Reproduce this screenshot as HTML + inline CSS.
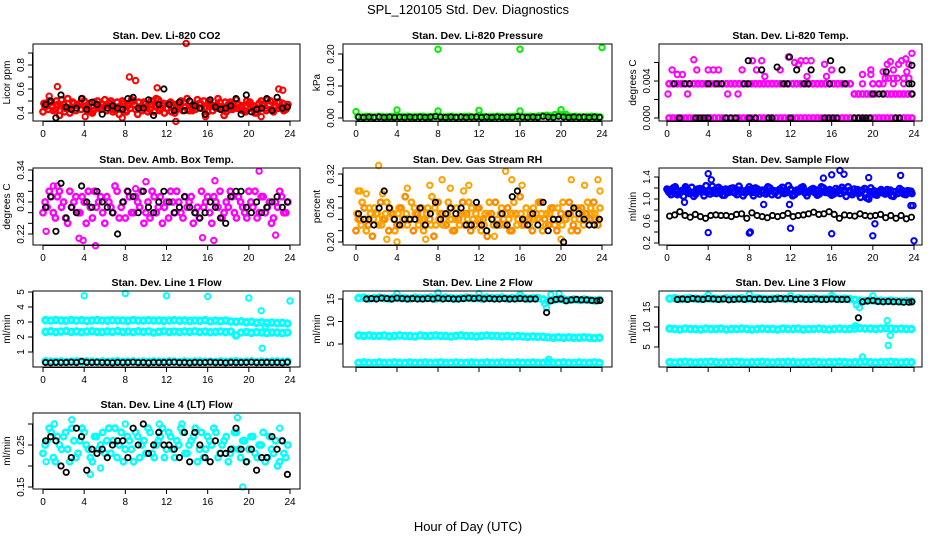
<!DOCTYPE html>
<html><head><meta charset="utf-8"><title>SPL_120105 Std. Dev. Diagnostics</title>
<style>
html,body{margin:0;padding:0;background:#fff;}
svg{display:block;font-family:"Liberation Sans",Arial,sans-serif;}
</style></head>
<body>
<svg id="chart" width="936" height="540" viewBox="0 0 936 540" xmlns="http://www.w3.org/2000/svg">
<rect x="0" y="0" width="936" height="540" fill="#fff"/>
<text x="468" y="14" text-anchor="middle" font-size="13">SPL_120105  Std. Dev. Diagnostics</text>
<text x="468" y="531" text-anchor="middle" font-size="13">Hour of Day (UTC)</text>
</svg>
<script>
// ---- data (hours 0-24) ----
const xTicks = [0,4,8,12,16,20,24];

// Panel 1: CO2
const co2RedA = [0.45,0.50,0.42,0.47,0.51,0.44,0.40,0.48,0.46,0.52,0.43,0.41,0.49,0.45,0.47,0.42,0.50,0.44,0.39,0.48,0.46,0.51,0.43,0.45,0.49,0.41,0.47,0.52,0.44,0.40,0.48,0.46,0.43,0.50,0.45,0.42,0.47,0.51,0.44,0.39,0.48,0.46,0.52,0.43,0.41,0.49,0.45,0.47,0.42,0.50,0.44,0.40,0.48,0.46,0.51,0.43,0.45,0.49,0.42,0.47];
const co2RedB = [0.41,0.46,0.49,0.43,0.38,0.47,0.52,0.44,0.42,0.48,0.50,0.45,0.40,0.47,0.43,0.51,0.46,0.41,0.49,0.44,0.42,0.47,0.50,0.39,0.45,0.48,0.43,0.41,0.51,0.46,0.44,0.49,0.40,0.47,0.42,0.52,0.45,0.43,0.48,0.50,0.41,0.46,0.44,0.49,0.38,0.47,0.43,0.51,0.45,0.42,0.48,0.46,0.40,0.50,0.44,0.47,0.41,0.49,0.45,0.43];
const co2RedC = [0.48,0.43,0.45,0.50,0.46,0.41,0.44,0.49,0.47,0.43,0.45,0.48,0.42,0.50,0.44,0.46,0.48,0.43,0.45,0.50,0.41,0.44,0.47,0.49,0.42,0.45,0.50,0.46,0.42,0.48,0.44,0.41,0.47,0.45,0.49,0.43,0.42,0.46,0.48,0.44,0.50,0.42,0.47,0.45,0.49,0.43,0.48,0.44,0.46,0.41,0.49,0.45,0.43,0.47,0.42,0.50,0.46,0.44,0.48,0.45];
const co2RedOutX = [1.4,8.4,9.0,11.1,13.9,22.9,23.3,0.6,7.7,12.9,4.1,15.8,21.2];
const co2RedOutY = [0.62,0.70,0.67,0.61,0.98,0.60,0.59,0.54,0.36,0.33,0.37,0.37,0.37];
const co2Black = [0.47,0.50,0.36,0.55,0.45,0.43,0.44,0.52,0.43,0.49,0.47,0.39,0.44,0.46,0.44,0.43,0.52,0.53,0.44,0.44,0.51,0.38,0.47,0.60,0.47,0.42,0.49,0.42,0.50,0.46,0.44,0.39,0.51,0.45,0.43,0.44,0.46,0.52,0.39,0.55,0.41,0.43,0.44,0.52,0.42,0.53,0.44,0.45];

// Panel 2: Pressure
const presGreen = [0.004,0.003,0.005,0.004,0.003,0.005,0.004,0.003,0.004,0.005,0.003,0.004,0.005,0.003,0.004,0.004,0.005,0.003,0.004,0.005,0.004,0.003,0.004,0.005,0.003,0.004,0.004,0.005,0.003,0.004,0.005,0.004,0.003,0.004,0.005,0.004,0.003,0.004,0.005,0.004,0.003,0.004,0.005,0.004,0.006,0.007,0.008,0.006,0.010,0.011,0.009,0.006,0.004,0.005,0.004,0.003,0.004,0.005,0.004,0.003];
const presGreenOutX = [0,4,8,12,16,20,8,16,24,20.5];
const presGreenOutY = [0.020,0.025,0.022,0.024,0.022,0.026,0.215,0.215,0.220,0.012];
const presBlack = [0.003,0.002,0.003,0.002,0.003,0.002,0.003,0.002,0.003,0.002,0.003,0.002,0.003,0.002,0.003,0.005,0.003,0.002,0.003,0.002,0.003,0.002,0.003,0.003,0.002,0.003,0.002,0.003,0.002,0.003,0.002,0.005,0.003,0.002,0.003,0.002,0.005,0.003,0.002,0.005,0.003,0.002,0.003,0.002,0.003,0.002,0.003,0.002];

// Panel 3: Temp
const tempLow = [0,0,0,0,0,0,0,0,0,0,0,0,0,0,0,0,0,0,0,0,0,0,0,0,0,0,0,0,0,0,0,0,0,0,0,0,0,0,0,0,0,0,0,0,0,0,0,0,0,0,0,0,0,0,0,0,0,0,0,0];
const tempMid = [0.0037,0.0037,0.0037,0.0037,0.0037,0.0037,0.0037,0.0037,0.0037,0.0037,0.0037,0.0037,0.0037,0.0037,0.0037,0.0037,0.0037,0.0037,0.0037,0.0037,0.0037,0.0037,0.0037,0.0037,0.0037,0.0037,0.0037,0.0037,0.0037,0.0037,0.0037,0.0037,0.0037,0.0037,0.0037,0.0037,0.0037,0.0037,0.0037,0.0037,0.0037,0.0037,0.0037,0.0037,0.0037,0.0026,0.0026,0.0026,0.0026,0.0026,0.0026,0.0037,0.0026,0.0026,0.0026,0.0026,0.0026,0.0026,0.0026,0.0026];
const tempMagOutX = [0.5,1.0,1.5,2.6,2.9,4.0,4.5,5.0,7.3,8.3,8.7,9.2,9.5,11.0,11.8,12.4,12.8,13.0,13.5,14.0,13.6,15.3,15.5,16.0,19.0,19.8,19.8,21.0,21.4,21.7,22.0,22.5,22.8,23.2,23.5,23.8,21.2,22.0,23.0,23.5,0.1,2.0,5.9,6.9,20.0,21.0,22.0,23.0,19.0,20.0,21.5,22.4,23.3];
const tempMagOutY = [0.0052,0.0047,0.0047,0.0063,0.0052,0.0052,0.0052,0.0052,0.0052,0.0062,0.0052,0.0062,0.0045,0.0052,0.0066,0.0060,0.0058,0.0062,0.0062,0.0062,0.0045,0.0058,0.0045,0.0052,0.0047,0.0052,0.0047,0.0050,0.0058,0.0061,0.0052,0.0058,0.0062,0.0064,0.0058,0.0070,0.0043,0.0043,0.0043,0.0043,0.0026,0.0026,0.0026,0.0026,0.0037,0.0037,0.0037,0.0037,0.0037,0.0037,0.0043,0.0043,0.0050];
const tempBlackX = [1.2,2.8,3.2,3.6,4.0,5.7,6.2,6.7,8.0,8.6,9.9,10.2,12.0,15.3,15.7,16.1,16.5,18.2,18.6,19.0,19.3,19.7,22.2,22.6,0.7,1.7,2.2,4.0,4.8,5.3,7.5,7.9,11.3,11.7,13.3,13.7,15.8,17.3,23.5,23.8,7.9,9.2,10.7,11.9,12.6,14.0,15.9,17.0,20.0,20.6,21.0,23.8,21.3,23.8];
const tempBlackY = [0,0,0,0,0,0,0,0,0,0,0,0,0,0,0,0,0,0,0,0,0,0,0,0,0.0037,0.0037,0.0037,0.0037,0.0037,0.0037,0.0037,0.0037,0.0037,0.0037,0.0037,0.0037,0.0037,0.0037,0.0037,0.0037,0.0062,0.0052,0.0055,0.0066,0.0052,0.0052,0.0062,0.0052,0.0026,0.0026,0.0026,0.0026,0.0050,0.0057];

// Panel 4: Amb box temp
const ambMagA = [0.28,0.30,0.26,0.29,0.27,0.25,0.30,0.28,0.26,0.29,0.24,0.27,0.30,0.28,0.26,0.29,0.27,0.31,0.25,0.28,0.30,0.26,0.29,0.27,0.24,0.28,0.30,0.26,0.29,0.27,0.25,0.28,0.30,0.26,0.29,0.28,0.24,0.27,0.30,0.28,0.26,0.29,0.27,0.25,0.28,0.30,0.26,0.29,0.27,0.25,0.28,0.30,0.26,0.29,0.27,0.24,0.28,0.30,0.26,0.28];
const ambMagB = [0.26,0.27,0.29,0.25,0.30,0.28,0.24,0.27,0.29,0.26,0.28,0.30,0.25,0.27,0.29,0.24,0.28,0.26,0.30,0.27,0.25,0.29,0.26,0.28,0.30,0.26,0.25,0.29,0.27,0.24,0.28,0.30,0.26,0.28,0.25,0.27,0.29,0.26,0.25,0.27,0.29,0.24,0.28,0.30,0.26,0.27,0.29,0.25,0.28,0.26,0.30,0.27,0.25,0.29,0.26,0.28,0.25,0.27,0.29,0.26];
const ambMagOutX = [0.3,3.5,3.9,5.1,10.0,16.7,15.5,21.0,22.6,16.6,1.0,1.4,9.0,13.0];
const ambMagOutY = [0.225,0.212,0.208,0.198,0.318,0.320,0.213,0.338,0.218,0.208,0.310,0.310,0.305,0.300];
const ambBlack = [0.27,0.29,0.225,0.315,0.25,0.27,0.26,0.31,0.28,0.27,0.30,0.28,0.27,0.26,0.22,0.28,0.30,0.29,0.26,0.30,0.27,0.26,0.28,0.30,0.28,0.26,0.27,0.29,0.27,0.26,0.25,0.26,0.28,0.27,0.25,0.24,0.29,0.30,0.30,0.27,0.26,0.28,0.26,0.27,0.28,0.29,0.27,0.28];

// Panel 5: Gas stream RH
const rhOrgA = [0.24,0.27,0.22,0.25,0.26,0.23,0.24,0.27,0.25,0.22,0.26,0.24,0.23,0.27,0.25,0.24,0.22,0.26,0.28,0.23,0.25,0.24,0.27,0.22,0.26,0.25,0.23,0.27,0.24,0.26,0.22,0.25,0.27,0.23,0.24,0.26,0.25,0.22,0.27,0.24,0.23,0.26,0.25,0.24,0.27,0.22,0.25,0.26,0.23,0.24,0.27,0.25,0.22,0.26,0.24,0.23,0.27,0.25,0.24,0.26];
const rhOrgB = [0.22,0.24,0.26,0.23,0.21,0.25,0.27,0.24,0.22,0.25,0.23,0.26,0.28,0.24,0.22,0.25,0.26,0.23,0.24,0.21,0.27,0.25,0.23,0.26,0.22,0.24,0.27,0.25,0.22,0.23,0.26,0.24,0.21,0.25,0.27,0.23,0.24,0.26,0.22,0.25,0.28,0.23,0.24,0.22,0.25,0.27,0.24,0.23,0.26,0.22,0.25,0.24,0.27,0.23,0.22,0.26,0.25,0.24,0.27,0.23];
const rhOrgC = [0.25,0.23,0.24,0.26,0.24,0.25,0.23,0.25,0.26,0.24,0.25,0.23,0.25,0.24,0.26,0.23,0.24,0.25,0.23,0.26,0.24,0.23,0.25,0.24,0.24,0.23,0.25,0.24,0.26,0.25,0.24,0.23,0.25,0.24,0.23,0.25,0.23,0.24,0.25,0.23,0.25,0.24,0.23,0.26,0.24,0.25,0.23,0.25,0.24,0.26,0.23,0.24,0.25,0.24,0.26,0.25,0.24,0.26,0.25,0.24];
const rhOrgOutX = [2.2,0.2,0.4,1.0,7.2,8.4,9.2,11.0,14.6,15.2,16.2,21.0,22.3,23.6,23.8,3.0,4.0,6.8,13.5,20.0,2.6,5.0,10.5];
const rhOrgOutY = [0.335,0.290,0.290,0.285,0.300,0.310,0.295,0.300,0.325,0.310,0.300,0.310,0.300,0.310,0.290,0.205,0.200,0.205,0.210,0.205,0.285,0.295,0.290];
const rhBlack = [0.25,0.24,0.24,0.23,0.26,0.29,0.26,0.24,0.23,0.24,0.24,0.24,0.26,0.23,0.25,0.27,0.24,0.25,0.26,0.25,0.26,0.23,0.23,0.27,0.23,0.22,0.24,0.23,0.25,0.23,0.28,0.29,0.24,0.23,0.25,0.23,0.27,0.22,0.24,0.24,0.20,0.25,0.26,0.25,0.24,0.23,0.23,0.24];

// Panel 6: Sample flow
const sfBlueA = [1.12,1.20,1.08,1.15,1.22,1.10,1.05,1.18,1.13,1.24,1.09,1.16,1.21,1.07,1.14,1.19,1.11,1.23,1.06,1.17,1.12,1.20,1.09,1.15,1.22,1.08,1.13,1.18,1.10,1.24,1.06,1.16,1.20,1.11,1.14,1.19,1.07,1.22,1.12,1.17,1.09,1.15,1.21,1.05,1.13,1.18,1.10,1.16,1.02,1.20,1.08,1.14,1.11,1.17,1.06,1.13,1.19,1.09,1.15,1.10];
const sfBlueB = [1.18,1.08,1.22,1.10,1.05,1.17,1.21,1.09,1.19,1.06,1.14,1.23,1.10,1.18,1.07,1.12,1.20,1.08,1.16,1.11,1.22,1.06,1.18,1.13,1.09,1.20,1.15,1.07,1.21,1.12,1.18,1.08,1.13,1.22,1.06,1.17,1.11,1.09,1.20,1.14,1.07,1.19,1.10,1.16,1.22,1.08,1.14,1.03,1.19,1.00,1.12,1.07,1.17,1.09,1.13,1.05,1.10,1.16,1.08,1.12];
const sfBlueC = [1.15,1.13,1.16,1.12,1.18,1.14,1.12,1.15,1.17,1.13,1.16,1.11,1.15,1.13,1.18,1.14,1.12,1.16,1.13,1.15,1.17,1.12,1.14,1.16,1.13,1.15,1.11,1.17,1.14,1.12,1.16,1.13,1.15,1.17,1.12,1.14,1.16,1.13,1.15,1.11,1.14,1.12,1.16,1.13,1.15,1.12,1.17,1.14,1.10,1.13,1.15,1.11,1.14,1.12,1.16,1.13,1.11,1.15,1.12,1.14];
const sfBlueOutX = [4.0,4.3,4.0,8.0,8.1,12.0,16.0,20.0,20.2,24.0,16.0,16.8,17.2,15.2,22.7,19.6,9.4,11.9,23.7,23.9,1.7];
const sfBlueOutY = [1.46,1.35,0.39,0.38,0.40,0.47,0.37,0.33,0.55,0.24,1.44,1.52,1.45,1.38,1.43,1.39,0.90,0.90,0.88,0.88,0.94];
const sfBlack = [0.69,0.71,0.77,0.70,0.67,0.72,0.68,0.65,0.70,0.71,0.70,0.70,0.68,0.72,0.73,0.65,0.75,0.70,0.68,0.66,0.70,0.68,0.70,0.74,0.68,0.70,0.71,0.73,0.76,0.72,0.73,0.77,0.72,0.65,0.71,0.70,0.69,0.73,0.70,0.69,0.70,0.72,0.66,0.70,0.65,0.70,0.64,0.67];

// Panel 7: Line 1 flow
const l1Band1 = [3.12,3.10,3.14,3.11,3.09,3.13,3.10,3.12,3.08,3.11,3.13,3.10,3.09,3.12,3.10,3.11,3.08,3.13,3.10,3.09,3.12,3.10,3.11,3.08,3.10,3.12,3.09,3.11,3.07,3.10,3.08,3.12,3.05,3.09,3.06,3.10,3.04,3.02,3.05,2.98,3.02,2.95,2.98,2.93,2.96,2.92,2.95,2.90];
const l1Band2 = [2.35,2.38,2.33,2.36,2.40,2.34,2.37,2.32,2.36,2.38,2.35,2.33,2.37,2.35,2.39,2.34,2.36,2.33,2.38,2.35,2.37,2.30,2.35,2.38,2.34,2.36,2.33,2.37,2.35,2.38,2.34,2.36,2.32,2.35,2.37,2.33,2.36,2.10,2.30,2.34,2.28,2.32,2.30,2.27,2.31,2.29,2.26,2.30];
const l1Band3 = [0.38,0.36,0.35,0.37,0.34,0.36,0.38,0.35,0.37,0.36,0.34,0.37,0.35,0.36,0.38,0.35,0.36,0.37,0.34,0.36,0.35,0.37,0.36,0.35,0.38,0.36,0.34,0.37,0.35,0.36,0.37,0.35,0.36,0.34,0.37,0.35,0.36,0.38,0.35,0.36,0.37,0.34,0.36,0.35,0.37,0.36,0.35,0.36];
const l1OutX = [4,8,12,16,20,21.2,21.3,24,21.6];
const l1OutY = [4.75,4.90,4.75,4.70,4.60,3.75,1.25,4.40,2.70];
const l1Black = [0.30,0.28,0.31,0.29,0.30,0.32,0.29,0.38,0.31,0.30,0.32,0.29,0.30,0.28,0.31,0.29,0.30,0.32,0.29,0.30,0.28,0.31,0.29,0.30,0.31,0.32,0.29,0.30,0.28,0.31,0.29,0.30,0.32,0.29,0.30,0.28,0.31,0.29,0.30,0.30,0.32,0.29,0.30,0.31,0.29,0.30,0.28,0.32];

// Panel 8: Line 2 flow
const l2Band1 = [15.2,15.3,15.1,15.2,15.3,15.2,15.1,15.3,15.2,15.2,15.1,15.3,15.2,15.2,15.3,15.1,15.2,15.3,15.2,15.1,15.2,15.3,15.2,15.2,15.1,15.3,15.2,15.2,15.3,15.1,15.2,15.2,15.3,15.1,15.2,15.2,14.9,14.6,14.8,15.0,14.9,14.8,14.9,14.8,14.9,14.8,14.7,14.8];
const l2Band2 = [6.9,6.8,6.9,6.8,6.8,6.9,6.7,6.8,6.9,6.8,6.8,6.7,6.9,6.8,6.8,6.9,6.8,6.8,6.7,6.8,6.9,6.8,6.8,6.7,6.8,6.9,6.8,6.8,6.7,6.8,6.7,6.8,6.7,6.6,6.7,6.6,6.6,6.5,6.4,6.5,6.4,6.5,6.4,6.4,6.5,6.4,6.3,6.4];
const l2Band3 = [0.8,0.9,0.8,0.8,0.9,0.8,0.8,0.9,0.8,0.8,0.9,0.8,0.8,0.9,0.8,0.8,0.9,0.8,0.8,0.9,0.8,0.8,0.9,0.8,0.8,0.9,0.8,0.8,0.9,0.8,0.8,0.9,0.8,0.8,0.9,0.8,0.8,0.9,0.8,0.8,0.9,0.8,0.8,0.9,0.8,0.8,0.9,0.8];
const l2OutX = [4,8,12,16,18.4,18.6,19.0,19.8,18.8];
const l2OutY = [16.2,16.4,16.2,16.0,14.0,13.0,16.0,16.2,1.6];
const l2BlackX = [1.0,1.5,2.0,2.5,3.0,3.5,4.0,4.5,5.0,5.5,6.0,6.5,7.0,7.5,8.0,8.5,9.0,9.5,10.0,10.5,11.0,11.5,12.0,12.5,13.0,13.5,14.0,14.5,15.0,15.5,16.0,16.5,17.0,17.5,18.6,19.0,19.5,20.0,20.5,21.0,21.5,22.0,22.5,23.0,23.5,23.8];
const l2BlackY = [15.0,15.1,15.0,15.2,15.1,15.0,15.2,15.1,15.0,15.1,15.0,15.0,15.1,15.0,15.2,15.0,15.1,15.0,15.0,15.1,15.2,15.1,15.2,15.0,15.1,15.0,15.0,15.1,15.0,15.0,15.1,15.0,15.0,15.0,12.0,14.6,14.9,15.0,14.6,14.8,14.9,14.8,14.8,14.7,14.6,14.7];

// Panel 9: Line 3 flow
const l3Band1 = [17.1,17.2,17.0,17.1,17.2,17.1,17.0,17.2,17.1,17.1,17.0,17.2,17.1,17.1,17.2,17.0,17.1,17.2,17.1,17.0,17.1,17.2,17.1,17.1,17.0,17.2,17.1,17.1,17.2,17.0,17.1,17.1,17.2,17.0,17.1,17.0,16.8,16.6,16.5,16.7,16.6,16.6,16.5,16.6,16.5,16.4,16.5,16.4];
const l3Band2 = [9.6,9.5,9.4,9.6,9.5,9.5,9.4,9.6,9.5,9.5,9.6,9.4,9.5,9.5,9.6,9.5,9.4,9.5,9.6,9.5,9.5,9.4,9.6,9.5,9.5,9.6,9.4,9.5,9.5,9.6,9.5,9.4,9.5,9.6,9.5,9.5,9.6,9.7,9.6,9.6,9.5,9.6,9.7,9.6,9.5,9.6,9.5,9.5];
const l3Band3 = [1.2,1.1,1.2,1.3,1.2,1.1,1.2,1.2,1.3,1.2,1.1,1.2,1.2,1.3,1.2,1.1,1.2,1.2,1.3,1.2,1.1,1.2,1.2,1.3,1.2,1.1,1.2,1.2,1.3,1.2,1.1,1.2,1.2,1.3,1.2,1.1,1.2,1.2,1.3,1.2,1.1,1.2,1.2,1.3,1.2,1.1,1.2,1.2];
const l3OutX = [4,8,12,16,18.4,18.7,20,21.4,21.5,21.7,19,18.3];
const l3OutY = [18.0,18.2,17.8,17.9,15.5,14.8,17.8,11.6,5.4,7.9,2.5,10.3];
const l3BlackX = [1.0,1.5,2.0,2.5,3.0,3.5,4.0,4.5,5.0,5.5,6.0,6.5,7.0,7.5,8.0,8.5,9.0,9.5,10.0,10.5,11.0,11.5,12.0,12.5,13.0,13.5,14.0,14.5,15.0,15.5,16.0,16.5,17.0,17.5,18.6,19.0,19.5,20.0,20.5,21.0,21.5,22.0,22.5,23.0,23.5,23.8];
const l3BlackY = [16.9,17.0,16.9,17.1,17.0,16.9,17.1,17.0,16.9,17.0,16.8,16.9,17.0,16.9,17.1,16.9,17.0,16.9,16.9,17.0,17.1,17.0,17.1,16.9,17.0,16.9,16.9,17.0,16.9,16.9,17.0,16.9,16.9,16.9,12.3,16.3,16.5,16.6,16.4,16.3,16.4,16.3,16.3,16.2,16.2,16.3];

// Panel 10: Line 4 (LT) flow
const l4CyanA = [0.25,0.29,0.22,0.27,0.24,0.28,0.21,0.26,0.23,0.29,0.25,0.22,0.27,0.24,0.28,0.26,0.23,0.29,0.25,0.21,0.27,0.24,0.28,0.22,0.26,0.29,0.23,0.25,0.27,0.22,0.28,0.24,0.26,0.29,0.23,0.25,0.27,0.21,0.28,0.24,0.26,0.29,0.22,0.25,0.27,0.23,0.28,0.24,0.26,0.21,0.27,0.23,0.25,0.28,0.22,0.24,0.26,0.21,0.23,0.25];
const l4CyanB = [0.23,0.26,0.28,0.21,0.25,0.27,0.24,0.29,0.22,0.26,0.28,0.24,0.21,0.27,0.25,0.23,0.29,0.26,0.22,0.28,0.24,0.26,0.21,0.27,0.25,0.23,0.28,0.22,0.26,0.29,0.24,0.27,0.22,0.25,0.28,0.23,0.26,0.29,0.24,0.22,0.27,0.25,0.28,0.23,0.26,0.21,0.24,0.28,0.22,0.26,0.24,0.27,0.22,0.25,0.21,0.27,0.23,0.20,0.26,0.22];
const l4CyanOutX = [2.8,8.0,13.5,18.9,19.4,0.3,4.6,5.6,11.3,1.1,23.0];
const l4CyanOutY = [0.31,0.30,0.30,0.315,0.15,0.21,0.18,0.195,0.30,0.30,0.29];
const l4Black = [0.26,0.27,0.26,0.20,0.185,0.22,0.29,0.27,0.19,0.24,0.23,0.24,0.22,0.25,0.26,0.26,0.22,0.29,0.25,0.30,0.23,0.25,0.28,0.25,0.25,0.24,0.22,0.28,0.21,0.28,0.25,0.22,0.21,0.26,0.23,0.23,0.24,0.29,0.24,0.21,0.24,0.19,0.22,0.22,0.27,0.24,0.26,0.18];

// ---- rendering ----
const NS = "http://www.w3.org/2000/svg";
const svg = document.getElementById('chart');
function mk(tag, attrs, parent){
  const e = document.createElementNS(NS, tag);
  for (const k in attrs) e.setAttribute(k, attrs[k]);
  (parent||svg).appendChild(e);
  return e;
}
function grid(n, off){ const g=[]; for(let i=0;i<n;i++) g.push((i+off)*24/n); return g; }

function drawPanel(p){
  const g = mk('g', {});
  
  
  const sx = h => p.x0 + h/24*(p.x24-p.x0);
  const sy = v => p.p0 + (v-p.v0)*(p.p1-p.p0)/(p.v1-p.v0);
  p.series.forEach(s=>{
    const sg = mk('g', {fill:'none', stroke:s.color, 'stroke-width':s.sw||'2'}, g);
    
    
    const xs = s.xs || grid(s.ys.length, s.off===undefined?0.5:s.off);
    s.ys.forEach((v,i)=>{
      const c = mk('circle', {cx:sx(xs[i]).toFixed(1), cy:sy(v).toFixed(1), r:s.r||'2.7'}, sg);
      
      
    });
  });
  const box = mk('rect', {x:p.L, y:p.T, width:p.R-p.L, height:p.B-p.T, fill:'none', stroke:'#000', 'stroke-width':'1'}, g);
  
  
  const t = mk('text', {x:(p.L+p.R)/2, y:p.T-5, 'text-anchor':'middle', 'font-size':'10.5', 'font-weight':'bold'}, g);
  t.textContent = p.title;
  
  
  const yl = mk('text', {x:0, y:0, 'text-anchor':'middle', 'font-size':'10', transform:`translate(${p.L-23},${(p.T+p.B)/2}) rotate(-90)`}, g);
  yl.textContent = p.ylab;
  
  
  const xa = mk('g', {stroke:'#000', 'stroke-width':'1'}, g);
  
  
  mk('line', {x1:sx(0), x2:sx(24), y1:p.B+0.5, y2:p.B+0.5}, xa);
  xTicks.forEach(h=>{
    mk('line', {x1:sx(h), x2:sx(h), y1:p.B, y2:p.B+5}, xa);
    if (p.xlabels){
      const lt = mk('text', {x:sx(h), y:p.B+16, 'text-anchor':'middle', 'font-size':'10', stroke:'none'}, g);
      lt.textContent = h;
      
      
    }
  });
  const ya = mk('g', {stroke:'#000', 'stroke-width':'1'}, g);
  
  
  const ty = p.yticks.map(sy);
  mk('line', {x1:p.L-0.5, x2:p.L-0.5, y1:Math.min(...ty), y2:Math.max(...ty)}, ya);
  p.yticks.forEach(v=>{ mk('line', {x1:p.L-5, x2:p.L, y1:sy(v), y2:sy(v)}, ya); });
  p.ylabels.forEach((lab,i)=>{
    const yv = p.ylabelVals[i];
    const lt = mk('text', {x:0, y:0, 'text-anchor':'middle', 'font-size':'10', transform:`translate(${p.L-9},${sy(yv)}) rotate(-90)`}, g);
    lt.textContent = lab;
    
    
  });
}

const C1={L:33,R:300,x0:43,x24:290}, C2={L:343,R:612,x0:356,x24:602}, C3={L:659,R:922,x0:667,x24:914};
const R1={T:44,B:121}, R2={T:168,B:245}, R3={T:291,B:367}, R4={T:413,B:489};
const K='#000';
const panels = [
 Object.assign({name:'panel-co2', title:'Stan. Dev. Li-820 CO2', ylab:'Licor ppm', v0:0.4,p0:113,v1:0.8,p1:65, yticks:[0.4,0.5,0.6,0.7,0.8,0.9], ylabelVals:[0.4,0.6,0.8], ylabels:['0.4','0.6','0.8'], xlabels:true,
   series:[{name:'co2-series-a',color:'#ff0000',ys:co2RedA,sw:'2.4'},{name:'co2-series-b',color:'#ff0000',ys:co2RedB,off:0,sw:'2.4'},{name:'co2-series-c',color:'#ff0000',ys:co2RedC,off:0.25,sw:'2.4'},{name:'co2-outliers',color:'#ff0000',xs:co2RedOutX,ys:co2RedOutY},{name:'co2-black',color:K,ys:co2Black,sw:'1.8'}]},C1,R1),
 Object.assign({name:'panel-pressure', title:'Stan. Dev. Li-820 Pressure', ylab:'kPa', v0:0,p0:118,v1:0.2,p1:54, yticks:[0,0.05,0.1,0.15,0.2], ylabelVals:[0,0.1,0.2], ylabels:['0.00','0.10','0.20'], xlabels:true,
   series:[{name:'pressure-green',color:'#00ee00',ys:presGreen,sw:'2.4'},{name:'pressure-outliers',color:'#00ee00',xs:presGreenOutX,ys:presGreenOutY},{name:'pressure-black',color:K,ys:presBlack,sw:'1.6'}]},C2,R1),
 Object.assign({name:'panel-temp', title:'Stan. Dev. Li-820 Temp.', ylab:'degrees C', v0:0,p0:118,v1:0.004,p1:81, yticks:[0,0.002,0.004,0.006], ylabelVals:[0,0.004], ylabels:['0.000','0.004'], xlabels:true,
   series:[{name:'temp-low',color:'#ff00ff',ys:tempLow,sw:'2.4'},{name:'temp-mid',color:'#ff00ff',ys:tempMid,sw:'2.4'},{name:'temp-scatter',color:'#ff00ff',xs:tempMagOutX,ys:tempMagOutY},{name:'temp-black',color:K,xs:tempBlackX,ys:tempBlackY,sw:'1.8'}]},C3,R1),
 Object.assign({name:'panel-amb-temp', title:'Stan. Dev. Amb. Box Temp.', ylab:'degrees C', v0:0.22,p0:234,v1:0.34,p1:170, yticks:[0.22,0.24,0.26,0.28,0.30,0.32,0.34], ylabelVals:[0.22,0.28,0.34], ylabels:['0.22','0.28','0.34'], xlabels:true,
   series:[{name:'amb-a',color:'#ff00ff',ys:ambMagA,sw:'2.4'},{name:'amb-b',color:'#ff00ff',ys:ambMagB,off:0,sw:'2.4'},{name:'amb-outliers',color:'#ff00ff',xs:ambMagOutX,ys:ambMagOutY},{name:'amb-black',color:K,ys:ambBlack,sw:'1.8'}]},C1,R2),
 Object.assign({name:'panel-rh', title:'Stan. Dev. Gas Stream RH', ylab:'percent', v0:0.20,p0:242,v1:0.32,p1:174, yticks:[0.20,0.22,0.24,0.26,0.28,0.30,0.32], ylabelVals:[0.20,0.26,0.32], ylabels:['0.20','0.26','0.32'], xlabels:true,
   series:[{name:'rh-a',color:'#ffa200',ys:rhOrgA,sw:'2.4'},{name:'rh-b',color:'#ff8800',ys:rhOrgB,off:0,sw:'2.4'},{name:'rh-c',color:'#ffa200',ys:rhOrgC,off:0.25,sw:'2.4'},{name:'rh-outliers',color:'#ffa200',xs:rhOrgOutX,ys:rhOrgOutY},{name:'rh-black',color:K,ys:rhBlack,sw:'1.8'}]},C2,R2),
 Object.assign({name:'panel-sample-flow', title:'Stan. Dev. Sample Flow', ylab:'ml/min', v0:0.2,p0:243,v1:1.4,p1:177, yticks:[0.2,0.4,0.6,0.8,1.0,1.2,1.4], ylabelVals:[0.2,0.6,1.0,1.4], ylabels:['0.2','0.6','1.0','1.4'], xlabels:true,
   series:[{name:'sample-a',color:'#0000ff',ys:sfBlueA,sw:'2.4'},{name:'sample-b',color:'#0000ff',ys:sfBlueB,off:0,sw:'2.4'},{name:'sample-c',color:'#0000ff',ys:sfBlueC,off:0.25,sw:'2.4'},{name:'sample-outliers',color:'#0000ff',xs:sfBlueOutX,ys:sfBlueOutY},{name:'sample-black',color:K,ys:sfBlack,sw:'1.8'}]},C3,R2),
 Object.assign({name:'panel-line1', title:'Stan. Dev. Line 1 Flow', ylab:'ml/min', v0:1,p0:352,v1:5,p1:292, yticks:[1,2,3,4,5], ylabelVals:[1,2,3,4,5], ylabels:['1','2','3','4','5'], xlabels:true,
   series:[{name:'line1-band-1',color:'#00ffff',ys:l1Band1,sw:'3',r:'2.8'},{name:'line1-band-2',color:'#00ffff',ys:l1Band2,sw:'3',r:'2.8'},{name:'line1-band-3',color:'#00ffff',ys:l1Band3,sw:'3',r:'2.8'},{name:'line1-outliers',color:'#00ffff',xs:l1OutX,ys:l1OutY},{name:'line1-black',color:K,ys:l1Black,sw:'1.8'}]},C1,R3),
 Object.assign({name:'panel-line2', title:'Stan. Dev. Line 2 Flow', ylab:'ml/min', v0:5,p0:344,v1:15,p1:299, yticks:[5,10,15], ylabelVals:[5,10,15], ylabels:['5','10','15'], xlabels:false,
   series:[{name:'line2-band-1',color:'#00ffff',ys:l2Band1,sw:'3',r:'2.8'},{name:'line2-band-2',color:'#00ffff',ys:l2Band2,sw:'3',r:'2.8'},{name:'line2-band-3',color:'#00ffff',ys:l2Band3,sw:'3',r:'2.8'},{name:'line2-outliers',color:'#00ffff',xs:l2OutX,ys:l2OutY},{name:'line2-black',color:K,xs:l2BlackX,ys:l2BlackY,sw:'1.8'}]},C2,R3),
 Object.assign({name:'panel-line3', title:'Stan. Dev. Line 3 Flow', ylab:'ml/min', v0:5,p0:347,v1:15,p1:307, yticks:[5,10,15], ylabelVals:[5,10,15], ylabels:['5','10','15'], xlabels:false,
   series:[{name:'line3-band-1',color:'#00ffff',ys:l3Band1,sw:'3',r:'2.8'},{name:'line3-band-2',color:'#00ffff',ys:l3Band2,sw:'3',r:'2.8'},{name:'line3-band-3',color:'#00ffff',ys:l3Band3,sw:'3',r:'2.8'},{name:'line3-outliers',color:'#00ffff',xs:l3OutX,ys:l3OutY},{name:'line3-black',color:K,xs:l3BlackX,ys:l3BlackY,sw:'1.8'}]},C3,R3),
 Object.assign({name:'panel-line4', title:'Stan. Dev. Line 4 (LT) Flow', ylab:'ml/min', v0:0.15,p0:487,v1:0.25,p1:445, yticks:[0.15,0.20,0.25,0.30], ylabelVals:[0.15,0.25], ylabels:['0.15','0.25'], xlabels:true,
   series:[{name:'line4-a',color:'#00ffff',ys:l4CyanA,sw:'2.4'},{name:'line4-b',color:'#00ffff',ys:l4CyanB,off:0,sw:'2.4'},{name:'line4-outliers',color:'#00ffff',xs:l4CyanOutX,ys:l4CyanOutY},{name:'line4-black',color:K,ys:l4Black,sw:'1.8'}]},C1,R4)
];
panels.forEach(drawPanel);
</script>
</body></html>
